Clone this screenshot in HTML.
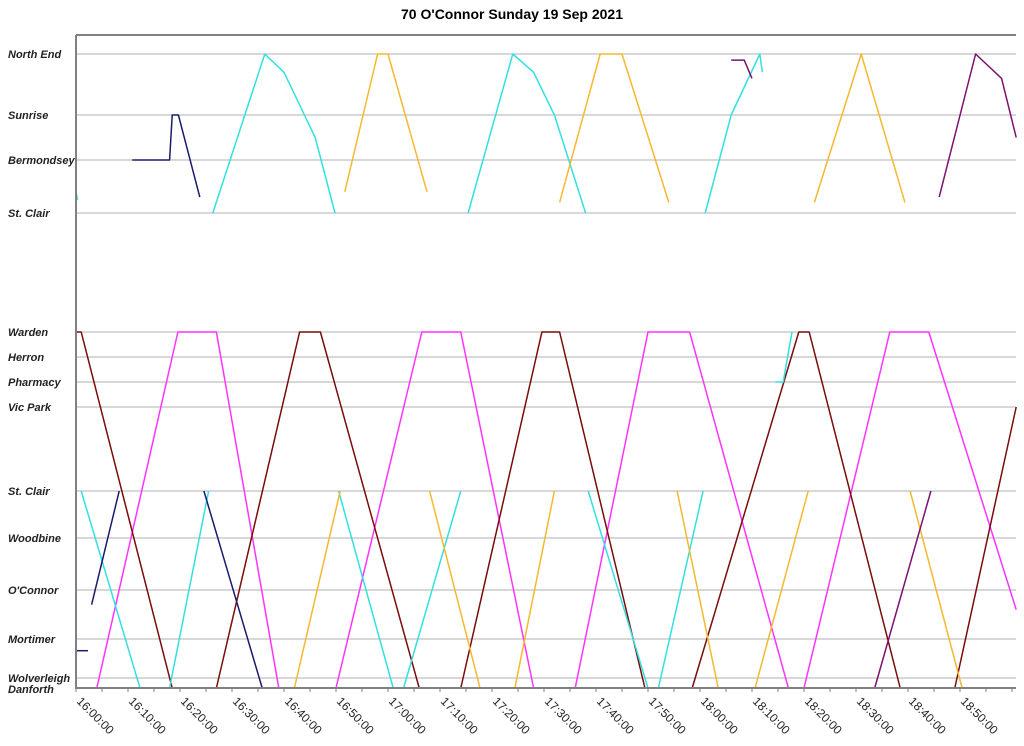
<!DOCTYPE html>
<html><head><meta charset="utf-8">
<style>
html,body{margin:0;padding:0;background:#fff;}
svg{display:block;font-family:"Liberation Sans",Arial,sans-serif;}
.lbl{font-size:11px;font-weight:bold;font-style:italic;fill:#222;}
.tick{font-size:12px;fill:#222;}
</style></head><body>
<svg id="chart" width="1024" height="746">
<text x="512" y="19" text-anchor="middle" font-size="14" font-weight="bold">70 O'Connor Sunday 19 Sep 2021</text>
<g id="grid"></g><g id="series"></g><g id="axes"></g>
</svg>
<script>
// stops (top to bottom)
const stopNames = ["North End","Sunrise","Bermondsey","St. Clair","Warden","Herron","Pharmacy","Vic Park","St. Clair","Woodbine","O'Connor","Mortimer","Wolverleigh","Danforth"];
const tickLabels = ["16:00:00","16:10:00","16:20:00","16:30:00","16:40:00","16:50:00","17:00:00","17:10:00","17:20:00","17:30:00","17:40:00","17:50:00","18:00:00","18:10:00","18:20:00","18:30:00","18:40:00","18:50:00"];
const tickMinutes = [0,10,20,30,40,50,60,70,80,90,100,110,120,130,140,150,160,170];
// trips: [minutes after 16:00, stop index (fractional allowed)]
const magentaTrip = [[0,13],[4,13],[19.6,4],[27,4],[39,13],[50,13],[66.5,4],[74,4],[88,13],[96,13],[110,4],[118,4],[137,13],[140,13],[156.5,4],[164,4],[180.8,10.4]];
const maroonTrip = [[0,4],[1,4],[18.5,13],[27,13],[43,4],[47,4],[66,13],[74,13],[89.6,4],[93,4],[109.4,13],[118.5,13],[139,4],[141,4],[158.5,13],[169,13],[180.8,7]];
const cyanTrips = [
 [[0,2.6],[0.3,2.75]],
 [[1,8],[12.3,13],[18,13],[25.5,8]],
 [[26.3,3],[36.3,0],[40,0.3],[46,1.5],[49.8,3]],
 [[50.5,8],[61,13],[63,13],[74,8]],
 [[75.4,3],[84,0],[88,0.3],[92,1],[98,3]],
 [[98.5,8],[110,13],[112,13],[120.6,8]],
 [[121,3],[126,1],[131.5,0],[132,0.3]],
 [[134.5,6],[136,6],[137.7,4]]
];
const yellowTrips = [
 [[37,13],[42,13],[50.8,8]],
 [[51.7,2.6],[58,0],[60,0],[67.5,2.6]],
 [[68,8],[77.7,13],[84.4,13],[92,8]],
 [[93,2.8],[100.8,0],[105,0],[114,2.8]],
 [[115.6,8],[123.5,13],[130.6,13],[140.8,8]],
 [[142,2.8],[151,0],[159.4,2.8]],
 [[160.4,8],[170.4,13]]
];
const navyTrips = [
 [[10.8,2],[18,2],[18.5,1],[19.7,1],[23.8,2.7]],
 [[0,11.3],[2.3,11.3]],
 [[3,10.3],[8.3,8]],
 [[24.6,8],[35.8,13],[36.8,13]]
];
const purpleTrips = [
 [[126,0.1],[128.5,0.1],[130,0.4]],
 [[166,2.7],[173,0],[178,0.4],[180.8,1.5]],
 [[148,13],[153.6,13],[164.4,8]]
];
const colors = {magenta:"#ff33ff",maroon:"#7a0c0c",cyan:"#33e0e0",yellow:"#f5b82e",navy:"#1b1b6b",purple:"#7b1270"};
const stopY = [54,115,160,213,332,357,382,407,491,538,590,639,678,688];
const X0=76, PX_PER_MIN=5.2, X1=1016, Y0=35, Y1=688;
function xs(t){return X0+t*PX_PER_MIN;}
function ys(s){const i=Math.floor(s), f=s-i; if(i>=stopY.length-1) return stopY[stopY.length-1]; return stopY[i]+f*(stopY[i+1]-stopY[i]);}
const NS="http://www.w3.org/2000/svg";
const grid=document.getElementById('grid'), ser=document.getElementById('series'), ax=document.getElementById('axes');
function mk(tag,attrs,parent){const e=document.createElementNS(NS,tag);for(const k in attrs)e.setAttribute(k,attrs[k]);parent.appendChild(e);return e;}
stopNames.forEach((n,i)=>{
 const l=mk('line',{x1:X0,x2:X1,y1:stopY[i],y2:stopY[i],stroke:'#b0b0b0','stroke-width':1},grid);
 
 
 const t=mk('text',{x:8,y:stopY[i]+(i===13?5:4),class:'lbl'},ax);t.textContent=n;
 
 
});
const frame=mk('path',{d:`M${X0} ${Y0}H${X1}M${X0} ${Y0}V${Y1}H${X1}`,stroke:'#808080','stroke-width':2,fill:'none'},ax);


for(let m=0;m<=180;m+=5){mk('line',{x1:xs(m),x2:xs(m),y1:Y1,y2:Y1+4,stroke:'#808080','stroke-width':1},ax);}
tickMinutes.forEach((m,i)=>{
 const x=xs(m);
 const t=mk('text',{x:x,y:Y1+14,class:'tick',transform:`rotate(45 ${x} ${Y1+14})`},ax);t.textContent=tickLabels[i];
 
 
});
function draw(trip,color,name){
 const d=trip.map((p,i)=>(i?'L':'M')+xs(p[0]).toFixed(1)+' '+ys(p[1]).toFixed(1)).join('');
 const p=mk('path',{d:d,stroke:color,'stroke-width':1.5,fill:'none','stroke-linejoin':'round'},ser);
 
 
}
draw(magentaTrip,colors.magenta,'magenta-trip');
draw(maroonTrip,colors.maroon,'maroon-trip');
cyanTrips.forEach(t=>draw(t,colors.cyan,'cyan-trip'));
yellowTrips.forEach(t=>draw(t,colors.yellow,'yellow-trip'));
navyTrips.forEach(t=>draw(t,colors.navy,'navy-trip'));
purpleTrips.forEach(t=>draw(t,colors.purple,'purple-trip'));
</script>
</body></html>
